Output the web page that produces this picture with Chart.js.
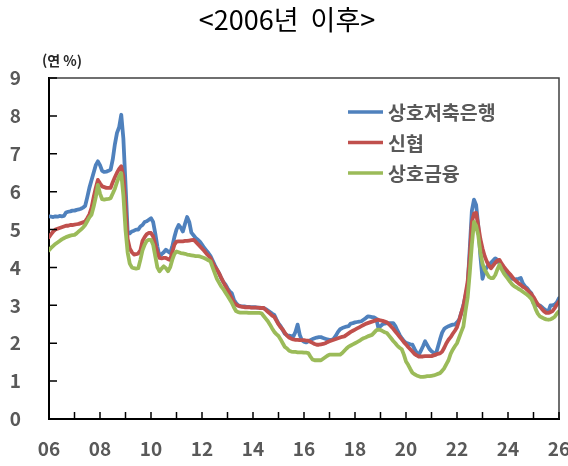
<!DOCTYPE html>
<html lang="ko">
<head>
<meta charset="utf-8">
<title>2006년 이후</title>
<script src="https://cdn.jsdelivr.net/npm/chart.js@4/dist/chart.umd.min.js"></script>
<style>
  html, body { margin: 0; padding: 0; background: #fff; }
  #wrap { width: 568px; height: 466px; }
</style>
</head>
<body>
<div id="wrap"><canvas id="rates" width="568" height="466"></canvas></div>
<script>
//*Labels
const chartTitle = '<2006년  이후>'
const unitLabel = '(연 %)'
const seriesNames = ['상호저축은행', '신협', '상호금융']
const xTickLabels = ['06', '08', '10', '12', '14', '16', '18', '20', '22', '24', '26']
const yTickLabels = ['0', '1', '2', '3', '4', '5', '6', '7', '8', '9']

//*Monthly series, 2006.01 ~ 2026.01 (연 %)
const savingsBank = [
  5.35, 5.34, 5.33, 5.35, 5.34, 5.36, 5.35, 5.36, 5.45, 5.47, 5.48, 5.50,
  5.50, 5.52, 5.53, 5.55, 5.58, 5.62, 5.85, 6.10, 6.30, 6.50, 6.70, 6.80,
  6.70, 6.55, 6.52, 6.53, 6.55, 6.58, 6.85, 7.25, 7.55, 7.70, 8.03, 7.40,
  6.20, 4.95, 4.90, 4.95, 4.97, 5.00, 5.00, 5.08, 5.12, 5.20, 5.22, 5.26,
  5.30, 5.20, 4.90, 4.55, 4.29, 4.35, 4.40, 4.47, 4.42, 4.38, 4.55, 4.80,
  5.00, 5.12, 5.05, 4.95, 5.15, 5.33, 5.20, 4.92, 4.85, 4.78, 4.73, 4.68,
  4.60, 4.52, 4.45, 4.38, 4.30, 4.18, 4.06, 3.95, 3.85, 3.72, 3.62, 3.55,
  3.45, 3.37, 3.32, 3.15, 3.06, 3.00, 2.98, 2.97, 2.97, 2.96, 2.96, 2.95,
  2.95, 2.95, 2.94, 2.94, 2.93, 2.93, 2.90, 2.86, 2.82, 2.78, 2.75, 2.63,
  2.52, 2.45, 2.35, 2.25, 2.21, 2.20, 2.19, 2.18, 2.30, 2.49, 2.22, 2.08,
  2.04, 2.02, 2.05, 2.08, 2.11, 2.13, 2.15, 2.16, 2.16, 2.14, 2.12, 2.10,
  2.09, 2.09, 2.12, 2.20, 2.30, 2.37, 2.40, 2.42, 2.44, 2.45, 2.52, 2.53,
  2.55, 2.56, 2.57, 2.58, 2.62, 2.66, 2.71, 2.70, 2.69, 2.68, 2.65, 2.40,
  2.45, 2.50, 2.52, 2.53, 2.53, 2.53, 2.53, 2.45, 2.33, 2.22, 2.13, 2.06,
  2.01, 1.99, 1.97, 1.96, 1.85, 1.75, 1.70, 1.80, 1.92, 2.05, 1.95, 1.85,
  1.79, 1.75, 1.70, 1.90, 2.10, 2.28, 2.38, 2.42, 2.45, 2.47, 2.49, 2.49,
  2.55, 2.62, 2.80, 3.00, 3.25, 3.50, 4.50, 5.50, 5.79, 5.65, 5.10, 4.30,
  3.70, 3.90, 4.00, 4.08, 4.12, 4.18, 4.24, 4.20, 4.10, 4.00, 3.92, 3.85,
  3.80, 3.75, 3.70, 3.68, 3.69, 3.70, 3.72, 3.58, 3.50, 3.45, 3.38, 3.32,
  3.05, 3.02, 3.00, 3.00, 2.95, 2.90, 2.86, 2.84, 3.00, 3.00, 3.02, 3.08,
  3.19,
]
const creditUnion = [
  4.80, 4.88, 4.95, 5.00, 5.02, 5.04, 5.06, 5.08, 5.10, 5.10, 5.12, 5.12,
  5.13, 5.14, 5.15, 5.17, 5.19, 5.21, 5.30, 5.40, 5.57, 5.85, 6.10, 6.31,
  6.22, 6.14, 6.12, 6.10, 6.10, 6.10, 6.25, 6.38, 6.50, 6.60, 6.67, 6.40,
  5.60, 4.75, 4.50, 4.40, 4.34, 4.35, 4.37, 4.45, 4.70, 4.80, 4.88, 4.91,
  4.91, 4.82, 4.60, 4.40, 4.25, 4.24, 4.25, 4.25, 4.22, 4.20, 4.40, 4.60,
  4.68, 4.69, 4.69, 4.69, 4.70, 4.70, 4.71, 4.72, 4.73, 4.68, 4.62, 4.56,
  4.50, 4.44, 4.37, 4.31, 4.25, 4.13, 4.02, 3.95, 3.85, 3.73, 3.62, 3.51,
  3.41, 3.30, 3.18, 3.08, 3.02, 2.99, 2.97, 2.96, 2.95, 2.95, 2.95, 2.94,
  2.94, 2.94, 2.94, 2.93, 2.93, 2.93, 2.88, 2.83, 2.78, 2.73, 2.70, 2.60,
  2.50, 2.42, 2.36, 2.27, 2.20, 2.15, 2.12, 2.10, 2.09, 2.09, 2.08, 2.08,
  2.08, 2.07, 2.07, 2.04, 2.01, 1.98, 1.96, 1.96, 1.97, 1.98, 2.00, 2.03,
  2.05, 2.07, 2.09, 2.11, 2.13, 2.15, 2.17, 2.18, 2.22, 2.26, 2.30, 2.33,
  2.36, 2.39, 2.42, 2.45, 2.48, 2.51, 2.53, 2.55, 2.57, 2.59, 2.61, 2.62,
  2.60, 2.59, 2.57, 2.55, 2.50, 2.44, 2.38, 2.31, 2.24, 2.17, 2.10, 2.03,
  1.97, 1.90, 1.84, 1.78, 1.72, 1.68, 1.65, 1.65, 1.65, 1.66, 1.66, 1.66,
  1.66, 1.68, 1.70, 1.72, 1.73, 1.78, 1.88, 2.00, 2.09, 2.16, 2.25, 2.33,
  2.42, 2.60, 2.80, 2.97, 3.30, 3.62, 4.30, 5.20, 5.42, 5.44, 5.10, 4.75,
  4.50, 4.30, 4.16, 4.05, 3.98, 4.05, 4.12, 4.18, 4.20, 4.10, 4.02, 3.95,
  3.88, 3.82, 3.75, 3.68, 3.63, 3.58, 3.54, 3.49, 3.46, 3.41, 3.35, 3.30,
  3.22, 3.12, 3.03, 2.97, 2.90, 2.84, 2.80, 2.80, 2.82, 2.85, 2.93, 3.02,
  3.10,
]
const mutualFinance = [
  4.45, 4.52, 4.57, 4.62, 4.66, 4.70, 4.74, 4.77, 4.80, 4.82, 4.84, 4.85,
  4.86, 4.90, 4.95, 5.00, 5.05, 5.12, 5.22, 5.32, 5.39, 5.60, 5.85, 6.18,
  5.95, 5.80, 5.79, 5.80, 5.81, 5.83, 5.95, 6.08, 6.25, 6.40, 6.49, 5.90,
  5.00, 4.40, 4.10, 4.00, 3.98, 3.97, 3.98, 4.20, 4.45, 4.60, 4.70, 4.73,
  4.73, 4.60, 4.30, 4.00, 3.90, 3.97, 4.03, 3.98, 3.90, 4.00, 4.20, 4.35,
  4.42, 4.40, 4.38, 4.37, 4.36, 4.34, 4.33, 4.32, 4.31, 4.30, 4.30, 4.29,
  4.27, 4.25, 4.22, 4.19, 4.16, 4.00, 3.85, 3.70, 3.60, 3.50, 3.43, 3.34,
  3.25, 3.16, 3.07, 2.95, 2.85, 2.82, 2.81, 2.81, 2.81, 2.81, 2.80, 2.80,
  2.80, 2.80, 2.80, 2.80, 2.79, 2.72, 2.65, 2.58, 2.49, 2.39, 2.30, 2.24,
  2.19, 2.10, 2.00, 1.90, 1.86, 1.80, 1.78, 1.77, 1.77, 1.76, 1.76, 1.76,
  1.75, 1.75, 1.74, 1.65, 1.57, 1.55, 1.55, 1.55, 1.55, 1.59, 1.63, 1.67,
  1.70, 1.70, 1.70, 1.70, 1.70, 1.70, 1.74, 1.80, 1.86, 1.91, 1.94, 1.97,
  2.00, 2.03, 2.06, 2.10, 2.13, 2.15, 2.18, 2.20, 2.22, 2.28, 2.34, 2.36,
  2.35, 2.32, 2.29, 2.27, 2.20, 2.13, 2.06, 2.00, 1.93, 1.88, 1.84, 1.70,
  1.52, 1.43, 1.32, 1.22, 1.18, 1.15, 1.13, 1.11, 1.11, 1.12, 1.13, 1.13,
  1.14, 1.15, 1.17, 1.19, 1.21, 1.27, 1.34, 1.45, 1.55, 1.72, 1.83, 1.92,
  2.00, 2.15, 2.30, 2.44, 2.85, 3.20, 3.85, 4.60, 5.20, 5.10, 4.85, 4.40,
  4.10, 3.94, 3.85, 3.75, 3.72, 3.72, 3.80, 3.95, 4.07, 3.95, 3.85, 3.77,
  3.70, 3.62, 3.55, 3.50, 3.47, 3.43, 3.40, 3.36, 3.32, 3.28, 3.23, 3.17,
  3.05, 2.90, 2.78, 2.71, 2.68, 2.65, 2.63, 2.62, 2.63, 2.66, 2.70, 2.78,
  2.84,
]

//*Month positions on the year axis (2006.00 = Jan 2006)
const months = savingsBank.map((v, i) => 2006 + i / 12)

const colors = ['#4F81BD', '#C0504D', '#9BBB59']
const textGray = '#595959'
const fontFamily = "'Noto Sans CJK KR', 'Noto Sans', sans-serif"

//*Plugin: title, unit, frame, inward ticks, legend
const decorations = {
  id: 'decorations',
  afterDraw(chart) {
    const { ctx, chartArea: a, scales } = chart
    ctx.save()

    //? Title
    ctx.fillStyle = '#000'
    ctx.font = `27px ${fontFamily}`
    ctx.textAlign = 'center'
    ctx.textBaseline = 'middle'
    ctx.fillText(chartTitle, 287, 20)

    //? Unit
    ctx.fillStyle = '#262626'
    ctx.font = `bold 14px ${fontFamily}`
    ctx.textAlign = 'left'
    ctx.fillText(unitLabel, a.left - 7, a.top - 17)

    //? Frame (top + right)
    ctx.strokeStyle = '#404040'
    ctx.lineWidth = 1.5
    ctx.beginPath()
    ctx.moveTo(a.left, a.top)
    ctx.lineTo(a.right, a.top)
    ctx.lineTo(a.right, a.bottom)
    ctx.stroke()

    //? Inward tick marks
    ctx.strokeStyle = '#000'
    ctx.lineWidth = 1.5
    ctx.beginPath()
    scales.x.ticks.forEach(t => {
      const px = scales.x.getPixelForValue(t.value)
      ctx.moveTo(px, a.bottom)
      ctx.lineTo(px, a.bottom - 7)
    })
    scales.y.ticks.forEach(t => {
      const py = scales.y.getPixelForValue(t.value)
      ctx.moveTo(a.left, py)
      ctx.lineTo(a.left + 8, py)
    })
    ctx.stroke()

    //? Legend
    ctx.font = `bold 19.5px ${fontFamily}`
    ctx.textBaseline = 'middle'
    chart.data.datasets.forEach((ds, i) => {
      const y = a.top + 34 + i * 30.5
      ctx.strokeStyle = ds.borderColor
      ctx.lineWidth = 3.5
      ctx.beginPath()
      ctx.moveTo(a.left + 299, y)
      ctx.lineTo(a.left + 334, y)
      ctx.stroke()
      ctx.fillStyle = textGray
      ctx.fillText(ds.label, a.left + 339, y + 1)
    })

    ctx.restore()
  }
}

const ctx = document.getElementById('rates').getContext('2d')
const chart = new Chart(ctx, {
  type: 'line',
  data: {
    labels: months,
    datasets: [savingsBank, creditUnion, mutualFinance].map((values, i) => ({
      label: seriesNames[i],
      data: values,
      borderColor: colors[i],
      backgroundColor: colors[i],
      borderWidth: 3.8,
      borderJoinStyle: 'round',
      borderCapStyle: 'round',
      pointRadius: 0,
      tension: 0,
      order: 3 - i,
    })),
  },
  options: {
    responsive: false,
    animation: false,
    events: [],
    layout: { padding: { top: 78, right: 9, left: 0, bottom: 0 } },
    plugins: {
      legend: { display: false },
      title: { display: false },
      tooltip: { enabled: false },
    },
    scales: {
      x: {
        type: 'linear',
        min: 2006,
        max: 2026,
        afterFit: s => {
          s.height = 47
          s.paddingLeft = 0
          s.paddingRight = 0
        },
        grid: { display: false, drawTicks: false },
        border: { display: true, color: '#000', width: 2 },
        ticks: {
          stepSize: 1,
          autoSkip: false,
          maxRotation: 0,
          padding: 18,
          color: textGray,
          font: { family: fontFamily, size: 19, weight: 'bold' },
          callback: v => (v % 2 === 0 ? xTickLabels[(v - 2006) / 2] : ''),
        },
      },
      y: {
        min: 0,
        max: 9,
        afterFit: s => {
          s.width = 49
          s.paddingTop = 0
          s.paddingBottom = 0
        },
        grid: { display: false, drawTicks: false },
        border: { display: true, color: '#000', width: 2 },
        ticks: {
          stepSize: 1,
          padding: 28,
          color: textGray,
          font: { family: fontFamily, size: 19, weight: 'bold' },
          callback: v => yTickLabels[v],
        },
      },
    },
  },
  plugins: [decorations],
})
</script>
</body>
</html>
